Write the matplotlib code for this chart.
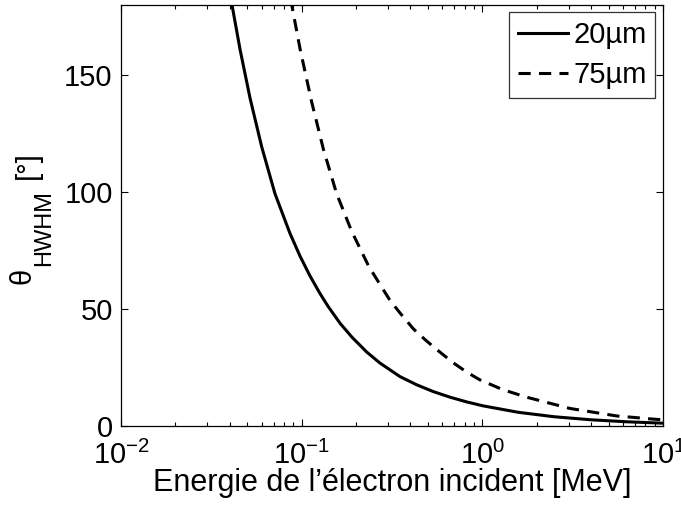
import matplotlib
matplotlib.use('Agg')
import matplotlib.pyplot as plt
from matplotlib.ticker import LogLocator, NullFormatter

plt.rcParams['font.family'] = ['Liberation Sans', 'DejaVu Sans']
plt.rcParams['mathtext.fontset'] = 'custom'
plt.rcParams['mathtext.rm'] = 'Liberation Sans'
plt.rcParams['mathtext.it'] = 'Liberation Sans:italic'
plt.rcParams['mathtext.default'] = 'regular'

# ===== Data =====
e_20 = [0.0400, 0.0410, 0.0456, 0.0518, 0.0601, 0.0711, 0.0861, 0.098, 0.111,
        0.126, 0.140, 0.163, 0.190, 0.229, 0.271, 0.350, 0.433, 0.535, 0.663,
        0.818, 1.01, 1.58, 2.5, 4.0, 6.3, 10.0]
theta_20 = [185.4, 180.5, 160.8, 140.0, 119.2, 99.3, 82.3, 72.5, 64.2,
            56.7, 51.1, 43.9, 37.9, 31.6, 26.9, 21.1, 17.6, 14.7, 12.3,
            10.3, 8.6, 5.85, 3.95, 2.65, 1.8, 1.2]

e_75 = [0.0860, 0.0881, 0.098, 0.1135, 0.132, 0.156, 0.189, 0.234, 0.271,
        0.308, 0.350, 0.415, 0.480, 0.558, 0.690, 0.820, 0.970, 1.30, 1.76,
        3.05, 5.53, 8.8, 10.0]
theta_75 = [184.4, 179.8, 161.0, 138.5, 118.1, 99.3, 83.2, 68.5, 60.5,
            53.7, 48.3, 41.5, 37.0, 32.7, 27.0, 23.0, 19.7, 15.5, 12.3,
            7.5, 4.3, 2.95, 2.65]

labels = ['20µm', '75µm']

W, H = 681, 514
fig = plt.figure(figsize=(W / 100, H / 100), dpi=100)
ax = fig.add_axes([121 / W, 1 - 426 / H, 542 / W, 421.5 / H])

ax.plot(e_20, theta_20, 'k-', linewidth=2.2, label=labels[0])
ax.plot(e_75, theta_75, 'k--', linewidth=2.2, dashes=(4, 2.7), label=labels[1])

ax.set_xscale('log')
ax.set_xlim(1e-2, 1e1)
ax.set_ylim(0, 180)
ax.set_yticks([0, 50, 100, 150])
ax.xaxis.set_minor_locator(LogLocator(base=10, subs=range(2, 10)))
ax.xaxis.set_minor_formatter(NullFormatter())

ax.tick_params(which='both', direction='in', top=True, right=True,
               labelsize=21, width=0.8)
ax.tick_params(which='major', length=5, pad=6)
ax.tick_params(axis='x', which='major', pad=11)
ax.tick_params(which='minor', length=3)
for s in ax.spines.values():
    s.set_linewidth(0.9)

ax.set_xlabel("Energie de l\u2019électron incident [MeV]", fontsize=22, labelpad=-1.5)

# y label built from pieces (large subscript, as in the reference)
ylab = dict(rotation=90, rotation_mode='anchor', ha='left', va='baseline')
fig.text(30 / W, 1 - 284 / H, 'θ', fontsize=21, **ylab)
fig.text(50 / W, 1 - 266 / H, 'HWHM', fontsize=17, **ylab)
fig.text(36 / W, 1 - 179 / H, '[°]', fontsize=21, **ylab)

leg = ax.legend(loc='upper right', fontsize=21, frameon=True, fancybox=False,
                edgecolor='black', handlelength=1.7, handletextpad=0.18,
                borderpad=0.3, labelspacing=0.4, borderaxespad=0.27)
leg.get_frame().set_linewidth(0.9)

plt.savefig('out.png', dpi=100, facecolor='white')
plt.close()
